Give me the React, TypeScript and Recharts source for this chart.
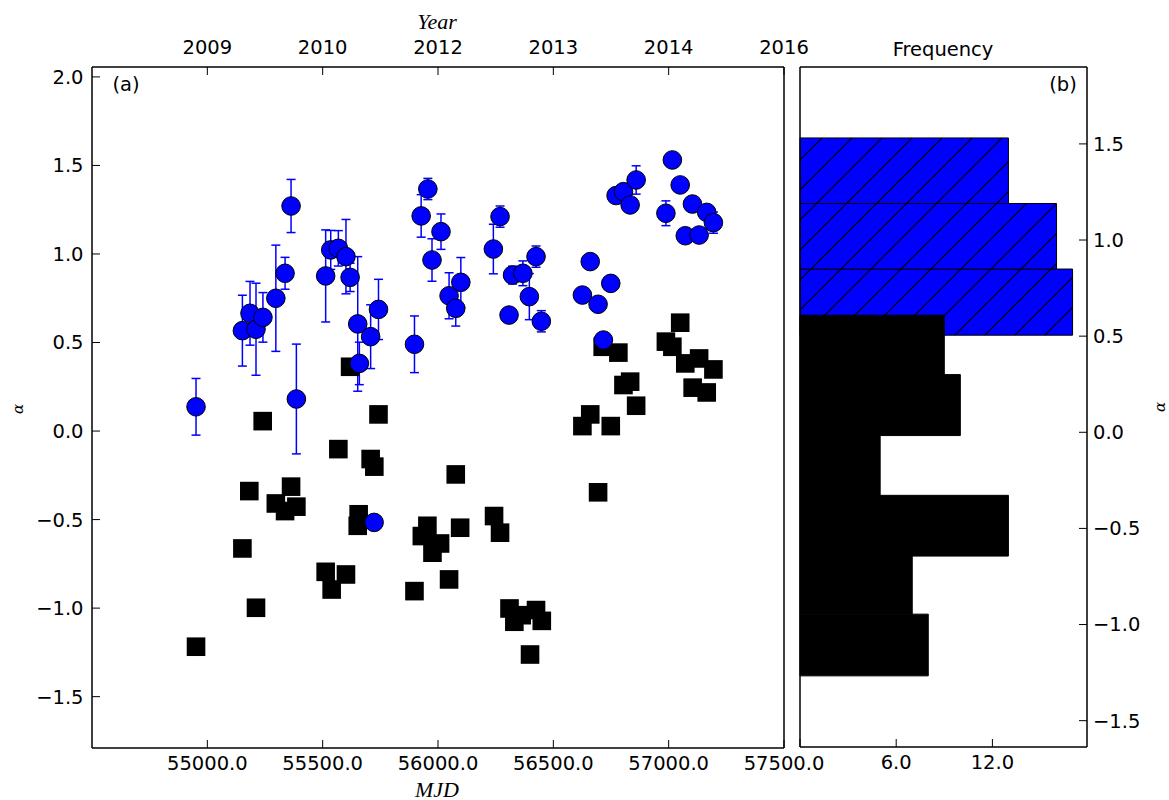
import React from "react";
import {
  ScatterChart,
  Scatter,
  XAxis,
  YAxis,
  ErrorBar,
  ReferenceArea,
} from "recharts";

// blue: alpha with error bars
const blueMjd = [
  54951, 55152, 55185, 55211, 55241, 55297, 55337, 55363, 55386, 55513, 55535, 55568, 55601,
  55619, 55652, 55659, 55708, 55742, 55723, 55898, 55927, 55956, 55974, 56013, 56048, 56077,
  56099, 56240, 56269, 56308, 56323, 56368, 56396, 56425, 56448, 56626, 56660, 56694, 56717,
  56749, 56772, 56804, 56833, 56859, 56988, 57016, 57050, 57072, 57103, 57132, 57165, 57194,
];
const blueAlpha = [
  0.137, 0.567, 0.665, 0.575, 0.642, 0.75, 0.891, 1.271, 0.181, 0.876, 1.023, 1.032, 0.985,
  0.868, 0.605, 0.382, 0.533, 0.687, -0.516, 0.49, 1.215, 1.367, 0.966, 1.126, 0.764, 0.693,
  0.84, 1.028, 1.211, 0.655, 0.881, 0.891, 0.759, 0.985, 0.62, 0.768, 0.957, 0.716, 0.514,
  0.834, 1.33, 1.352, 1.277, 1.418, 1.23, 1.531, 1.39, 1.103, 1.282, 1.107, 1.235, 1.177,
];
const blueErr = [
  0.16, 0.2, 0.18, 0.26, 0.14, 0.3, 0.09, 0.15, 0.31, 0.26, 0.11, 0.1, 0.21,
  0.08, 0.38, 0.12, 0.18, 0.17, 0, 0.16, 0.12, 0.06, 0.12, 0.1, 0.13, 0.1,
  0.14, 0.14, 0.06, 0, 0.05, 0.07, 0.13, 0.06, 0.06, 0, 0, 0, 0,
  0, 0, 0, 0, 0.08, 0.07, 0, 0, 0, 0, 0, 0, 0.06,
];

// black squares
const blackMjd = [
  54951, 55152, 55182, 55211, 55240, 55297, 55337, 55363, 55386, 55513, 55539, 55568, 55601,
  55619, 55652, 55656, 55708, 55724, 55742, 55898, 55930, 55954, 55976, 56009, 56048, 56077,
  56096, 56243, 56269, 56310, 56331, 56363, 56399, 56425, 56450, 56626, 56660, 56694, 56714,
  56749, 56782, 56804, 56833, 56859, 56988, 57016, 57050, 57072, 57104, 57132, 57165, 57194,
];
const blackAlpha = [
  -1.218, -0.663, -0.339, -0.998, 0.056, -0.409, -0.452, -0.314, -0.427, -0.795, -0.895, -0.102, -0.81,
  0.363, -0.535, -0.47, -0.158, -0.201, 0.094, -0.904, -0.593, -0.535, -0.687, -0.635, -0.838, -0.245,
  -0.546, -0.48, -0.574, -1.002, -1.077, -1.04, -1.262, -1.011, -1.072, 0.028, 0.094, -0.346, 0.476,
  0.028, 0.443, 0.26, 0.279, 0.143, 0.505, 0.476, 0.612, 0.382, 0.245, 0.41, 0.218, 0.348,
];

// histogram (b)
const blueBinEdges = [0.505, 0.849, 1.19, 1.531];
const blueCounts = [17, 16, 13];
const blackBinEdges = [-1.267, -0.946, -0.644, -0.328, -0.017, 0.3, 0.609];
const blackCounts = [8, 7, 13, 5, 10, 9];

const mjdTicks = [55000, 55500, 56000, 56500, 57000, 57500];
const yearLabels = ["2009", "2010", "2012", "2013", "2014", "2016"];
const alphaTicks = [-1.5, -1.0, -0.5, 0.0, 0.5, 1.0, 1.5, 2.0];
const histAlphaTicks = [-1.5, -1.0, -0.5, 0.0, 0.5, 1.0, 1.5];
const freqTicks = [0, 6, 12];

const blueData = blueMjd.map((x, i) => ({ x, y: blueAlpha[i], err: blueErr[i] }));
const blackData = blackMjd.map((x, i) => ({ x, y: blackAlpha[i] }));
const histData = [
  ...blueCounts.map((c, i) => ({ x: c, y: blueBinEdges[i + 1] })),
  ...blackCounts.map((c, i) => ({ x: c, y: blackBinEdges[i + 1] })),
];

const font = "'DejaVu Sans', sans-serif";
const tickStyle = { fontSize: 19.5, fill: "#000", fontFamily: font };
const spine = { stroke: "#000", strokeWidth: 1.5 };
const tickLn = { stroke: "#000", strokeWidth: 1 };
const fmt = (v: number) => (v < 0 ? "\u2212" + Math.abs(v).toFixed(1) : v.toFixed(1));

const Circle = (p: any) => (
  <circle cx={p.cx} cy={p.cy} r={9.3} fill="#0000ff" stroke="#000" strokeWidth={1} />
);
const Square = (p: any) => (
  <rect x={p.cx - 9.3} y={p.cy - 9.3} width={18.6} height={18.6} fill="#000" />
);
const Nothing = () => <g />;

const txt = (extra: React.CSSProperties): React.CSSProperties => ({
  position: "absolute",
  whiteSpace: "nowrap",
  transform: "translate(-50%, -50%)",
  color: "#000",
  lineHeight: 1,
  ...extra,
});

export default function App() {
  return (
    <div style={{ position: "absolute", left: 0, top: 0, width: 1169, height: 800, background: "#fff" }}>
      <svg width="0" height="0" style={{ position: "absolute" }}>
        <defs>
          <pattern id="hatch" patternUnits="userSpaceOnUse" width="30" height="30">
            <rect width="30" height="30" fill="#0000ff" />
            <path d="M0,30 L30,0 M-7.5,7.5 L7.5,-7.5 M22.5,37.5 L37.5,22.5" stroke="#000" strokeWidth="1.2" />
          </pattern>
        </defs>
      </svg>

      <div style={{ position: "absolute", left: 0, top: 0 }}>
        <ScatterChart width={830} height={800} margin={{ top: 27, right: 30, bottom: 12, left: 0 }}>
          <XAxis
            xAxisId="bottom"
            dataKey="x"
            type="number"
            domain={[54500, 57500]}
            ticks={mjdTicks}
            interval={0}
            tickFormatter={(v: number) => v.toFixed(1)}
            height={40}
            tickSize={-8}
            tickMargin={16}
            axisLine={spine}
            tickLine={tickLn}
            tick={tickStyle}
          />
          <XAxis
            xAxisId="top"
            orientation="top"
            dataKey="x"
            type="number"
            domain={[54500, 57500]}
            ticks={mjdTicks}
            interval={0}
            tickFormatter={(v: number) => yearLabels[mjdTicks.indexOf(v)]}
            height={40}
            tickSize={-8}
            tickMargin={21}
            axisLine={spine}
            tickLine={tickLn}
            tick={tickStyle}
          />
          <YAxis
            yAxisId="left"
            dataKey="y"
            type="number"
            domain={[-1.79, 2.056]}
            ticks={alphaTicks}
            interval={0}
            tickFormatter={fmt}
            width={92}
            tickSize={-8}
            tickMargin={16.5}
            axisLine={spine}
            tickLine={tickLn}
            tick={tickStyle}
          />
          <YAxis
            yAxisId="right"
            orientation="right"
            dataKey="y"
            type="number"
            domain={[-1.79, 2.056]}
            ticks={alphaTicks}
            interval={0}
            width={16}
            tickSize={-8}
            axisLine={spine}
            tickLine={tickLn}
            tick={false}
          />
          <Scatter
            xAxisId="top"
            yAxisId="right"
            data={blackData}
            shape={Nothing}
            isAnimationActive={false}
          />
          <Scatter
            xAxisId="bottom"
            yAxisId="left"
            data={blackData}
            shape={Square}
            isAnimationActive={false}
          />
          <Scatter
            xAxisId="bottom"
            yAxisId="left"
            data={blueData}
            shape={Circle}
            isAnimationActive={false}
          >
            <ErrorBar dataKey="err" direction="y" width={4.5} stroke="#0000ff" strokeWidth={1.5} />
          </Scatter>
        </ScatterChart>
      </div>

      <div style={{ position: "absolute", left: 780, top: 0 }}>
        <ScatterChart width={389} height={800} margin={{ top: 27, right: 12, bottom: 13, left: 10 }}>
          <XAxis
            xAxisId="bottom"
            dataKey="x"
            type="number"
            domain={[0, 17.9]}
            ticks={freqTicks}
            interval={0}
            tickFormatter={(v: number) => (v === 0 ? "" : v.toFixed(1))}
            height={40}
            tickSize={-8}
            tickMargin={16}
            axisLine={spine}
            tickLine={tickLn}
            tick={tickStyle}
          />
          <XAxis
            xAxisId="top"
            orientation="top"
            dataKey="x"
            type="number"
            domain={[0, 17.9]}
            ticks={freqTicks}
            interval={0}
            height={40}
            tickSize={-8}
            axisLine={spine}
            tickLine={tickLn}
            tick={false}
          />
          <YAxis
            yAxisId="left"
            dataKey="y"
            type="number"
            domain={[-1.637, 1.9]}
            width={10}
            axisLine={spine}
            tickLine={false}
            tick={false}
          />
          <YAxis
            yAxisId="right"
            orientation="right"
            dataKey="y"
            type="number"
            domain={[-1.637, 1.9]}
            ticks={histAlphaTicks}
            interval={0}
            tickFormatter={fmt}
            width={70}
            tickSize={-8}
            tickMargin={14}
            axisLine={spine}
            tickLine={tickLn}
            tick={tickStyle}
          />
          <Scatter xAxisId="bottom" yAxisId="right" data={histData} shape={Nothing} isAnimationActive={false} />
          <Scatter xAxisId="top" yAxisId="left" data={histData} shape={Nothing} isAnimationActive={false} />
          {blueCounts.map((c, i) => (
            <ReferenceArea
              key={"b" + i}
              xAxisId="bottom"
              yAxisId="right"
              x1={0}
              x2={c}
              y1={blueBinEdges[i]}
              y2={blueBinEdges[i + 1]}
              fill="url(#hatch)"
              fillOpacity={1}
              stroke="#000"
              strokeWidth={1}
            />
          ))}
          {blackCounts.map((c, i) => (
            <ReferenceArea
              key={"k" + i}
              xAxisId="bottom"
              yAxisId="right"
              x1={0}
              x2={c}
              y1={blackBinEdges[i]}
              y2={blackBinEdges[i + 1]}
              fill="#000"
              fillOpacity={1}
              stroke="#000"
              strokeWidth={1}
            />
          ))}
        </ScatterChart>
      </div>

      <div style={txt({ left: 437, top: 22, fontFamily: "'Liberation Serif', serif", fontStyle: "italic", fontSize: 22 })}>Year</div>
      <div style={txt({ left: 437, top: 790, fontFamily: "'Liberation Serif', serif", fontStyle: "italic", fontSize: 22 })}>MJD</div>
      <div style={txt({ left: 943, top: 50, fontFamily: font, fontSize: 19.5 })}>Frequency</div>
      <div style={txt({ left: 126, top: 85, fontFamily: font, fontSize: 19.5 })}>(a)</div>
      <div style={txt({ left: 1063, top: 85, fontFamily: font, fontSize: 19.5 })}>(b)</div>
      <div style={txt({ left: 18, top: 409, fontFamily: "'DejaVu Serif', serif", fontStyle: "italic", fontSize: 15, transform: "translate(-50%, -50%) rotate(-90deg)" })}>α</div>
      <div style={txt({ left: 1160, top: 407, fontFamily: "'DejaVu Serif', serif", fontStyle: "italic", fontSize: 15, transform: "translate(-50%, -50%) rotate(-90deg)" })}>α</div>
    </div>
  );
}
